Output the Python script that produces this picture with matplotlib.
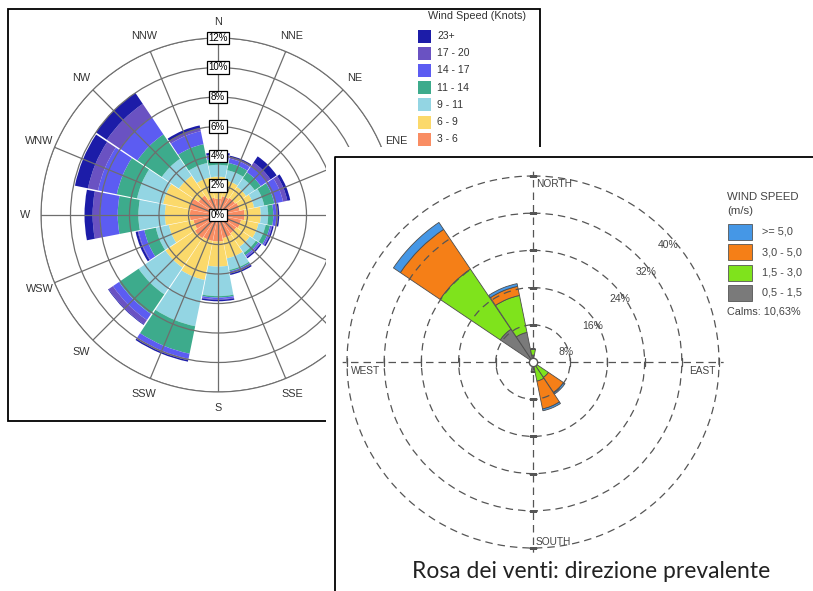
import numpy as np
import matplotlib.pyplot as plt
from matplotlib.patches import Rectangle

W, H = 813, 591

def box(x0, y0, x1, y1):
    # pixel box (origin top-left) -> figure fraction rect
    return [x0 / W, 1 - y1 / H, (x1 - x0) / W, (y1 - y0) / H]

# ---- left rose: wind speed in knots, % per direction (N clockwise) ----
dirs16 = ["N", "NNE", "NE", "ENE", "E", "ESE", "SE", "SSE",
          "S", "SSW", "SW", "WSW", "W", "WNW", "NW", "NNW"]
k3_6 = [1.1, 1.3, 1.4, 1.5, 1.8, 1.6, 1.5, 1.6, 1.8, 1.8, 1.9, 1.7, 1.9, 2.0, 1.6, 1.2]
k6_9 = [1.5, 1.1, 0.9, 1.0, 1.1, 1.2, 1.1, 1.4, 1.7, 2.7, 2.4, 1.7, 1.7, 1.8, 1.6, 1.4]
k9_11 = [0.8, 0.7, 0.7, 0.7, 0.5, 0.5, 0.5, 0.8, 2.0, 3.2, 2.2, 0.9, 1.8, 1.8, 1.4, 1.0]
k11_14 = [0.4, 0.5, 0.5, 0.7, 0.35, 0.3, 0.2, 0.1, 0.1, 1.9, 1.6, 0.8, 1.4, 1.4, 2.0, 1.3]
k14_17 = [0.2, 0.3, 0.5, 0.6, 0.2, 0.1, 0.1, 0.1, 0.1, 0.35, 0.5, 0.4, 1.2, 1.3, 1.4, 0.9]
k17_20 = [0.1, 0.1, 0.3, 0.3, 0.1, 0.05, 0.05, 0.05, 0.05, 0.1, 0.35, 0.05, 0.5, 0.7, 1.1, 0.2]
k23 = [0.15, 0.1, 0.5, 0.2, 0.1, 0.1, 0.1, 0.1, 0.1, 0.1, 0.05, 0.15, 0.55, 0.9, 0.9, 0.2]
knot_labels = ["3 - 6", "6 - 9", "9 - 11", "11 - 14", "14 - 17", "17 - 20", "23+"]
knot_colors = ["#f98d63", "#fbd96b", "#93d5e3", "#3dab8c", "#5c5cf2", "#6a52c2", "#1c1ca8"]
knot_rings = [0, 2, 4, 6, 8, 10, 12]

# ---- right rose: wind speed in m/s, % per direction ----
ms_05_15 = [1.5, 0, 0, 0, 0, 0, 0.5, 0.5, 2.2, 0, 0, 0, 0, 0, 8.5, 6.5]
ms_15_30 = [1.3, 0, 0, 0, 0, 0, 3.5, 3.7, 0, 0, 0, 0, 0, 0, 15.6, 8.1]
ms_30_50 = [0, 0, 0, 0, 0, 0, 3.9, 6.1, 0, 0, 0, 0, 0, 0, 10.3, 2.0]
ms_50 = [0, 0, 0, 0, 0, 0, 0.4, 0.4, 0, 0, 0, 0, 0, 0, 1.8, 0.6]
ms_labels = [">= 5,0", "3,0 - 5,0", "1,5 - 3,0", "0,5 - 1,5"]
ms_colors = ["#4597e6", "#f57f17", "#7fe31c", "#7a7a7a"]
ms_rings = [8, 16, 24, 32, 40]
calms = "10,63%"

theta = np.radians(np.arange(16) * 22.5)
width = np.radians(22.5)
FONT = "Liberation Sans"

fig = plt.figure(figsize=(W / 100, H / 100), dpi=100)
fig.patch.set_facecolor("white")

# overlay for the left panel (frame + legend)
bgL = fig.add_axes([0, 0, 1, 1], zorder=0)
bgL.set_xlim(0, W); bgL.set_ylim(H, 0); bgL.axis("off")
bgL.add_patch(Rectangle((8, 9), 532, 412, fill=False, ec="black", lw=1.3))
bgL.text(428, 16, "Wind Speed (Knots)", fontsize=7.8, color="#333", va="center", family=FONT)
for i, (lab, c) in enumerate(zip(knot_labels[::-1], knot_colors[::-1])):
    y = 36 + 17.2 * i
    bgL.add_patch(Rectangle((418, y - 6.5), 13, 13, color=c, lw=0))
    bgL.text(437, y, lab, fontsize=7.5, color="#333", va="center", family=FONT)

# left wind rose
axL = fig.add_axes(box(41, 38, 395, 392), projection="polar", zorder=1)
axL.set_theta_zero_location("N")
axL.set_theta_direction(-1)
bottom = np.zeros(16)
for vals, c in zip([k3_6, k6_9, k9_11, k11_14, k14_17, k17_20, k23], knot_colors):
    axL.bar(theta, vals, width=width * 0.97, bottom=bottom, color=c, lw=0)
    bottom += np.array(vals)
axL.set_ylim(0, 12)
axL.set_yticks(knot_rings[1:])
axL.set_yticklabels([])
axL.set_xticks(theta)
axL.set_xticklabels([])
axL.tick_params(length=0)
axL.set_axisbelow(False)
axL.grid(color="#6e6e6e", lw=0.9)
axL.spines["polar"].set_color("#6e6e6e")
for r in knot_rings:
    axL.text(0, r, f"{r}%", fontsize=7, ha="center", va="center", zorder=5, family=FONT,
             bbox=dict(boxstyle="square,pad=0.15", fc="white", ec="black", lw=0.9))
for t, d in zip(theta, dirs16):
    axL.text(t, 13.1, d, fontsize=7.8, color="#333", ha="center", va="center",
             family=FONT, clip_on=False)

# overlay for the right panel (cover, frame, legend, caption)
bgR = fig.add_axes([0, 0, 1, 1], zorder=2)
bgR.set_xlim(0, W); bgR.set_ylim(H, 0); bgR.axis("off")
bgR.add_patch(Rectangle((326, 147), 600, 500, color="white", lw=0))
bgR.plot([335, 335, 820], [600, 157, 157], color="black", lw=1.3)
bgR.text(727, 197, "WIND SPEED", fontsize=8.2, color="#444", va="center", family=FONT)
bgR.text(727, 211, "(m/s)", fontsize=8.2, color="#444", va="center", family=FONT)
for i, (lab, c) in enumerate(zip(ms_labels, ms_colors)):
    y = 232 + 20.3 * i
    bgR.add_patch(Rectangle((728, y - 8), 24, 16, fc=c, ec="#555", lw=0.6))
    bgR.text(762, y, lab, fontsize=7.8, color="#444", va="center", family=FONT)
bgR.text(727, 312, "Calms: " + calms, fontsize=7.8, color="#444", va="center", family=FONT)
bgR.text(591, 572, "Rosa dei venti: direzione prevalente", fontsize=16.5, color="#222",
         ha="center", va="center", family="Lato")

# right wind rose
rmax = 41
rad = 186 * rmax / 40
axR = fig.add_axes(box(533 - rad, 362 - rad, 533 + rad, 362 + rad), projection="polar", zorder=3)
axR.set_theta_zero_location("N")
axR.set_theta_direction(-1)
axR.patch.set_alpha(0)
bottom = np.zeros(16)
for vals, c in zip([ms_05_15, ms_15_30, ms_30_50, ms_50], ms_colors[::-1]):
    axR.bar(theta, vals, width=width * 0.98, bottom=bottom, color=c, ec="#4d4d4d", lw=0.6)
    bottom += np.array(vals)
axR.set_ylim(0, rmax)
axR.set_yticks(ms_rings)
axR.set_yticklabels([])
axR.set_xticks(np.radians([0, 90, 180, 270]))
axR.set_xticklabels([])
axR.tick_params(length=0)
axR.spines["polar"].set_visible(False)
axR.grid(color="#555", lw=0.9, ls=(0, (6, 4)))
for a in [90, 270]:
    axR.plot([np.radians(a)] * 5, ms_rings, ls="none", marker="|", ms=6, mew=0.9, color="#555")
for a in [0, 180]:
    axR.plot([np.radians(a)] * 5, ms_rings, ls="none", marker="_", ms=6, mew=0.9, color="#555")
axR.plot(0, 0, "o", ms=6, mfc="white", mec="#555", mew=1, zorder=6)
lab_pos = [(73, 7.4), (59, 15.0), (54, 23.1), (51.5, 31.1), (49, 38.4)]
for (a, r), v in zip(lab_pos, ms_rings):
    axR.text(np.radians(a), r, f"{v}%", fontsize=7.5, color="#444", ha="center",
             va="center", family=FONT)
txt = dict(fontsize=7.3, color="#444", family=FONT, textcoords="offset points")
axR.annotate("NORTH", xy=(0, 38.2), xytext=(2, 0), ha="left", va="center", **txt)
axR.annotate("SOUTH", xy=(np.pi, 38.8), xytext=(2, 0), ha="left", va="center", **txt)
axR.annotate("WEST", xy=(np.radians(270), 36), xytext=(0, -3), ha="center", va="top", **txt)
axR.annotate("EAST", xy=(np.radians(90), 36.5), xytext=(0, -3), ha="center", va="top", **txt)

fig.savefig("out.png", dpi=100)
